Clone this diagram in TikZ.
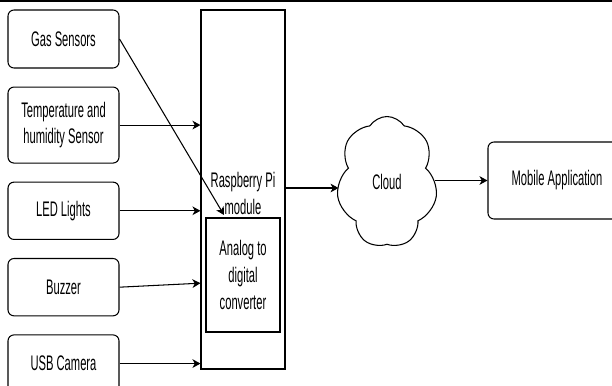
\documentclass[tikz,border=0pt]{standalone}
\usepackage{fontspec}
\setmainfont[FakeStretch=0.53]{Liberation Sans}
\usetikzlibrary{positioning,shapes.symbols,arrows.meta,calc}

\begin{document}
\begin{tikzpicture}[x=0.03cm,y=-0.03cm,line width=0.9pt,
        node distance=0.54cm,
        txt/.style={align=center,font=\fontsize{18}{23}\selectfont},
        block/.style={txt,draw,rounded corners=0.18cm,minimum width=3.33cm,minimum height=1.72cm},
        plain/.style={txt,draw,inner sep=0pt},
        arr/.style={-{Stealth[length=2.4mm,width=2.6mm,inset=0.7mm]}}]
        \useasboundingbox (0,0) rectangle (612,385);
        \draw[line width=0.06cm] (0,1) -- (612,1);

        % inputs
        \node[block,minimum height=1.74cm] (gas) at (63.5,39) {Gas Sensors};
        \node[block,minimum height=2.28cm] (temp) [below=of gas] {Temperature and\\humidity Sensor};
        \node[block] (led) [below=of temp] {LED Lights};
        \node[block] (buzz) [below=of led] {Buzzer};
        \node[block] (usb) [below=of buzz] {USB Camera};

        % controller
        \node[plain,minimum width=2.52cm,minimum height=10.77cm] (rpi) at (243,189.5) {};
        \node[txt] (rpilabel) at (243,193) {Raspberry Pi\\module};
        \node[plain,minimum width=2.22cm,minimum height=3.42cm] (adc) at (243,275) {Analog to\\digital\\converter};
        \coordinate (gastip) at (224,215);

        % outputs
        \node[txt,cloud,draw,cloud puffs=7,cloud puff arc=115,cloud ignores aspect,
              minimum width=3.03cm,minimum height=3.93cm] (cloud) at (387,182) {Cloud};
        \node[block,minimum width=4.14cm,minimum height=2.31cm] (mob) at (557,180.5) {Mobile Application};

        \draw[arr] (gas.east) -- (gastip);
        \draw[arr] (temp.east) -- (temp.east -| rpi.west);
        \draw[arr] (led.east) -- (led.east -| rpi.west);
        \draw[arr] (buzz.east) -- ($(buzz.east -| rpi.west)+(0,-4)$);
        \draw[arr] (usb.east) -- (usb.east -| rpi.west);
        \draw[arr] (rpi.east |- 0,188) -- (cloud.west |- 0,188);
        \draw[arr] (cloud.east |- mob.west) -- (mob.west);
\end{tikzpicture}
\end{document}
